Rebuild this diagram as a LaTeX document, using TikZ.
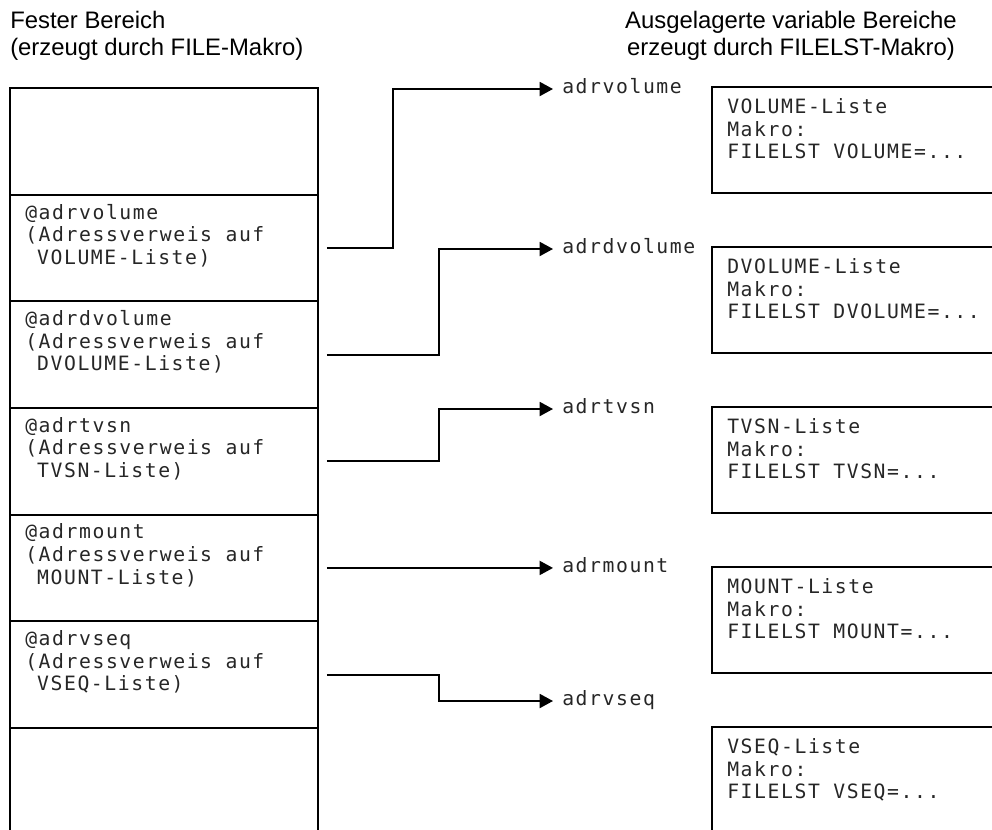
\documentclass[tikz,border=0pt]{standalone}
\usepackage{fontspec}
\setmainfont{Liberation Sans}
\newfontfamily\codefont[LetterSpace=8]{DejaVu Sans Mono}
\usetikzlibrary{arrows.meta}

\tikzset{
  feld/.style={draw, line width=1.4pt, minimum width=231pt, minimum height=80pt, anchor=north west, inner sep=0pt},
  liste/.style={draw, line width=1.4pt, minimum width=240pt, minimum height=79.5pt, anchor=north west, inner sep=0pt},
  code/.style={font=\codefont\fontsize{14.8}{16.9}\selectfont, align=left, anchor=north west, inner sep=0pt, text=black!85},
  kopf/.style={font=\fontsize{17.9}{20.3}\selectfont, inner sep=0pt},
  ziel/.style={font=\codefont\fontsize{14.8}{16.9}\selectfont, anchor=west, inner sep=0pt, text height=8pt, text depth=2pt, text=black!85},
  pfeil/.style={line width=1.4pt, -{Triangle[length=10pt,width=10.5pt]}, shorten <=6pt, shorten >=6.75pt}
}

\begin{document}
\begin{tikzpicture}[x=0.75pt, y=-0.75pt]

\clip (0,0) rectangle (992,829);

% ===== Headers =====

\node[kopf, anchor=north west, align=left] (fest) at (10,11) {Fester Bereich\\(erzeugt durch FILE-Makro)};
\node[kopf, anchor=north, align=center] (ausg) at (791,11) {Ausgelagerte variable Bereiche\\erzeugt durch FILELST-Makro)};

% ===== Fester Bereich =====

\node[feld] (f1) at (9,87) {};
\node[feld] (f2) at (9,193.67) {};
\node[feld] (f3) at (9,300.33) {};
\node[feld] (f4) at (9,407) {};
\node[feld] (f5) at (9,513.67) {};
\node[feld] (f6) at (9,620.33) {};
\node[feld] (f7) at (9,727) {};

\node[code] (t2) at (25,203.67) {@adrvolume\\(Adressverweis auf\\\phantom{(}VOLUME-Liste)};
\node[code] (t3) at (25,310.33) {@adrdvolume\\(Adressverweis auf\\\phantom{(}DVOLUME-Liste)};
\node[code] (t4) at (25,417) {@adrtvsn\\(Adressverweis auf\\\phantom{(}TVSN-Liste)};
\node[code] (t5) at (25,523.67) {@adrmount\\(Adressverweis auf\\\phantom{(}MOUNT-Liste)};
\node[code] (t6) at (25,630.33) {@adrvseq\\(Adressverweis auf\\\phantom{(}VSEQ-Liste)};

% ===== Ausgelagerte Bereiche =====

\node[liste] (v1) at (711,86) {};
\node[liste] (v2) at (711,246) {};
\node[liste] (v3) at (711,406) {};
\node[liste] (v4) at (711,566) {};
\node[liste] (v5) at (711,726) {};

\node[code] (b1) at (727,98.5) {VOLUME-Liste\\Makro:\\FILELST VOLUME=...};
\node[code] (b2) at (727,258.5) {DVOLUME-Liste\\Makro:\\FILELST DVOLUME=...};
\node[code] (b3) at (727,418.5) {TVSN-Liste\\Makro:\\FILELST TVSN=...};
\node[code] (b4) at (727,578.5) {MOUNT-Liste\\Makro:\\FILELST MOUNT=...};
\node[code] (b5) at (727,738.5) {VSEQ-Liste\\Makro:\\FILELST VSEQ=...};

% ===== Adressen =====

\node[ziel] (z1) at (562,89) {adrvolume};
\node[ziel] (z2) at (562,249) {adrdvolume};
\node[ziel] (z3) at (562,409) {adrtvsn};
\node[ziel] (z4) at (562,568) {adrmount};
\node[ziel] (z5) at (562,701) {adrvseq};

% ===== Verweise =====

\draw[pfeil] (f2.east) -- ++(74,0) |- (z1.west);
\draw[pfeil] (f3.east) -- ++(120,0) |- (z2.west);
\draw[pfeil] (f4.east) -- ++(120,0) |- (z3.west);
\draw[pfeil] (f5.east) -- (f5.east -| z4.west);
\draw[pfeil] (f6.east) -- ++(120,0) |- (z5.west);

\end{tikzpicture}
\end{document}
